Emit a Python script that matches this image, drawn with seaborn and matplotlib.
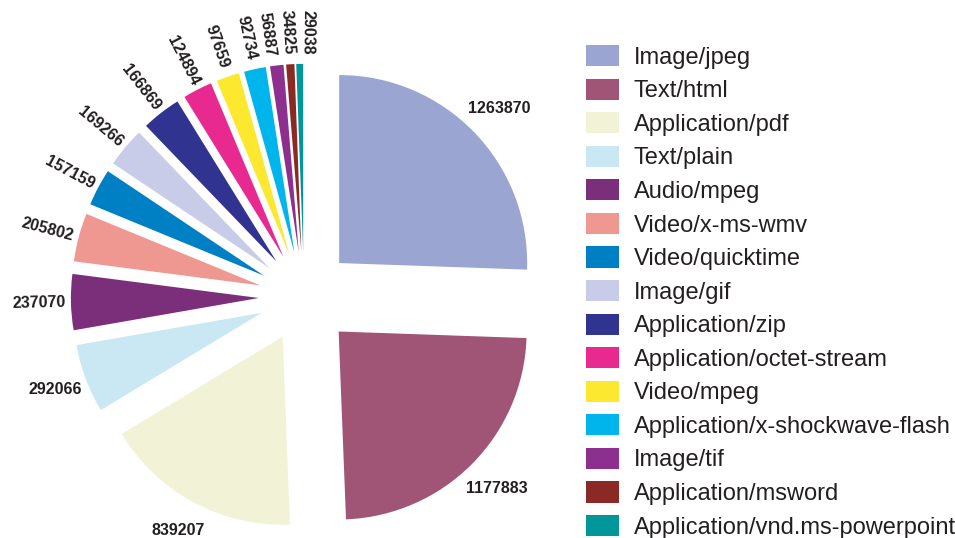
import numpy as np
import seaborn as sns
import matplotlib.pyplot as plt

# MIME types and counts, clockwise from 12 o'clock
mime_types = ['Image/jpeg', 'Text/html', 'Application/pdf', 'Text/plain',
              'Audio/mpeg', 'Video/x-ms-wmv', 'Video/quicktime', 'Image/gif',
              'Application/zip', 'Application/octet-stream', 'Video/mpeg',
              'Application/x-shockwave-flash', 'Image/tif', 'Application/msword',
              'Application/vnd.ms-powerpoint']
counts = [1263870, 1177883, 839207, 292066, 237070, 205802, 157159, 169266,
          166869, 124894, 97659, 92734, 56887, 34825, 29038]
colors = ['#9ba5d2', '#a05476', '#f2f2d6', '#cae8f4', '#7b2f7a', '#ef9791',
          '#0080c4', '#c8cce8', '#313390', '#e8298f', '#fce82e', '#00b5ec',
          '#8c2f8e', '#8b2a24', '#00969a']

sns.set_style('white')
plt.rcParams['font.family'] = ['Liberation Sans', 'DejaVu Sans']

W, H = 955, 538
fig = plt.figure(figsize=(W / 100, H / 100), dpi=100)

# pie axes: centre of the pie at (304, 297) px from top-left, radius 188 px
r_px = 188
cx, cy = 304, H - 297
ax = fig.add_axes([0, 0, 2 * cx / W, 1])

frac = np.array(counts) / sum(counts)
explode = np.where(frac > 0.2, 0.26, 0.24)

wedges, texts = ax.pie(counts, colors=colors, startangle=90, counterclock=False,
                       explode=explode, labels=[str(c) for c in counts],
                       labeldistance=1.0, radius=1,
                       wedgeprops=dict(linewidth=0))

# pie() resets the limits, so set them afterwards
ax.set_xlim(-cx / r_px, cx / r_px)
ax.set_ylim(-cy / r_px, (H - cy) / r_px)
ax.set_aspect('auto')
ax.axis('off')

# label angles; spread the crowded small ones so they don't overlap
mids = np.array([((w.theta1 + w.theta2) / 2) % 360 for w in wedges])
small = frac < 0.05
idx = np.where(small)[0]
ang = mids.copy()
min_sep = 4.4
for _ in range(200):
    order = idx[np.argsort(ang[idx])]
    for a, b in zip(order[:-1], order[1:]):
        gap = ang[b] - ang[a]
        if gap < min_sep:
            push = (min_sep - gap) / 2
            ang[a] -= push
            ang[b] += push

label_r = np.where(frac > 0.2, 1.445, 1.41)
for i, (w, t) in enumerate(zip(wedges, texts)):
    th = np.radians(ang[i])
    t.set_position((label_r[i] * np.cos(th), label_r[i] * np.sin(th)))
    t.set_ha('center')
    t.set_va('center')
    t.set_fontsize(11.5)
    t.set_fontweight('bold')
    t.set_color('#231f20')
    if small[i]:
        t.set_rotation(ang[i] - 180)
        t.set_rotation_mode('anchor')

fig.legend(wedges, mime_types, loc='upper left',
           bbox_to_anchor=(586 / W, 1 - 45 / H), frameon=False,
           fontsize=17, handlelength=1.4, handleheight=1.0,
           handletextpad=0.62, labelspacing=0.42, borderpad=0,
           borderaxespad=0, labelcolor='#231f20')

fig.savefig('out.png', dpi=100)
